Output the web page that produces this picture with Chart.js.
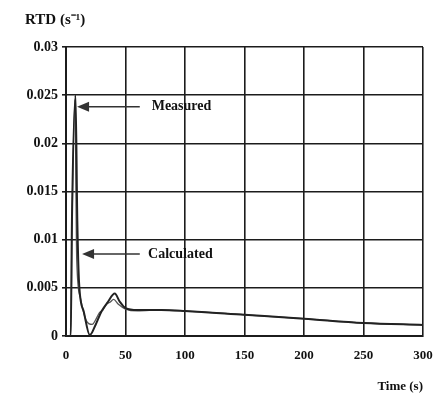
<!DOCTYPE html>
<html lang="en">
  <head>
    <meta charset="UTF-8" />
    <title>RTD</title>
    <script src="https://cdn.jsdelivr.net/npm/chart.js"></script>
    <style>
      body { margin: 0; background: #fff; }
    </style>
  </head>
  <body>
    <canvas id="rtd" width="434" height="395"></canvas>

    <script>
      // values (time in s, RTD in 1/s)
      const measuredTime = [0, 4, 5, 8, 9.5, 11, 15, 20, 25, 30, 35, 41, 45, 50, 60, 80, 100, 150, 200, 250, 300];
      const measuredRtd = [0, 0, 0.012, 0.025, 0.012, 0.0055, 0.0025, 0.0001, 0.0012, 0.0026, 0.0035, 0.0044, 0.0036, 0.0029, 0.0027, 0.0027, 0.0026, 0.0022, 0.0018, 0.00135, 0.00115];

      const calculatedTime = [0, 4, 5, 7.5, 9, 12, 17, 22, 25, 28, 31, 34, 37, 40, 44, 50, 60, 80, 100, 150, 200, 250, 300];
      const calculatedRtd = [0, 0, 0.011, 0.0245, 0.008, 0.004, 0.0016, 0.0012, 0.0017, 0.0024, 0.0027, 0.0033, 0.0035, 0.0038, 0.0033, 0.0028, 0.0026, 0.0027, 0.0026, 0.0022, 0.0018, 0.00135, 0.00115];

      const xTicks = [0, 50, 100, 150, 200, 250, 300];

      const FONT = "'Liberation Serif', 'Times New Roman', serif";
      const INK = "#1c1c1c";

      function pairs(xs, ys) {
        return xs.map((x, i) => ({ x: x, y: ys[i] }));
      }

      // arrows + labels, placed in data units
      const notes = [
        { text: "Measured", tipX: 9.3, fromX: 62, textX: 72, y: 0.0238 },
        { text: "Calculated", tipX: 13.5, fromX: 62, textX: 69, y: 0.0085 },
      ];

      const annotate = {
        id: "annotate",
        afterDatasetsDraw(chart) {
          const c = chart.ctx;
          const xs = chart.scales.x;
          const ys = chart.scales.y;
          c.save();
          notes.forEach(function (n) {
            const y = ys.getPixelForValue(n.y);
            const tip = xs.getPixelForValue(n.tipX);
            const from = xs.getPixelForValue(n.fromX);
            c.strokeStyle = "#333";
            c.lineWidth = 1.5;
            c.beginPath();
            c.moveTo(tip + 6, y);
            c.lineTo(from, y);
            c.stroke();
            c.fillStyle = "#333";
            c.beginPath();
            c.moveTo(tip, y);
            c.lineTo(tip + 12, y - 5);
            c.lineTo(tip + 12, y + 5);
            c.closePath();
            c.fill();
            c.fillStyle = "#111";
            c.font = "bold 14px " + FONT;
            c.textBaseline = "middle";
            c.textAlign = "left";
            c.fillText(n.text, xs.getPixelForValue(n.textX), y);
          });
          // y axis title, top left
          c.font = "bold 15px " + FONT;
          c.textBaseline = "middle";
          c.fillText("RTD (s\u207B\u00B9)", 25, 20);
          c.restore();
        },
      };

      new Chart(document.getElementById("rtd"), {
        type: "line",
        data: {
          datasets: [
            {
              label: "Measured",
              data: pairs(measuredTime, measuredRtd),
              borderColor: "#222",
              borderWidth: 2,
              pointRadius: 0,
              cubicInterpolationMode: "monotone",
            },
            {
              label: "Calculated",
              data: pairs(calculatedTime, calculatedRtd),
              borderColor: "#555",
              borderWidth: 1.3,
              pointRadius: 0,
              cubicInterpolationMode: "monotone",
            },
          ],
        },
        options: {
          responsive: false,
          animation: false,
          layout: { padding: { top: 47, right: 11, left: 0, bottom: 0 } },
          plugins: { legend: { display: false }, tooltip: { enabled: false } },
          scales: {
            x: {
              type: "linear",
              min: 0,
              max: 300,
              afterBuildTicks: function (s) {
                s.ticks = xTicks.map((v) => ({ value: v }));
              },
              afterFit: function (s) {
                s.height = 59;
                s.paddingLeft = 0;
                s.paddingRight = 0;
              },
              grid: { color: INK, lineWidth: 1.6, drawTicks: false },
              border: { color: INK, width: 2 },
              ticks: {
                color: "#111",
                padding: 12,
                maxRotation: 0,
                font: { family: FONT, size: 13, weight: "bold" },
              },
              title: {
                display: true,
                text: "Time (s)",
                align: "end",
                color: "#111",
                padding: { top: 4, bottom: 1 },
                font: { family: FONT, size: 13, weight: "bold" },
              },
            },
            y: {
              min: 0,
              max: 0.03,
              afterFit: function (s) {
                s.width = 66;
              },
              grid: { color: INK, lineWidth: 1.6, tickLength: 4 },
              border: { color: INK, width: 2 },
              ticks: {
                stepSize: 0.005,
                color: "#111",
                padding: 4,
                font: { family: FONT, size: 14, weight: "bold" },
                callback: function (v) {
                  return String(+v.toFixed(3));
                },
              },
            },
          },
        },
        plugins: [annotate],
      });
    </script>
  </body>
</html>
